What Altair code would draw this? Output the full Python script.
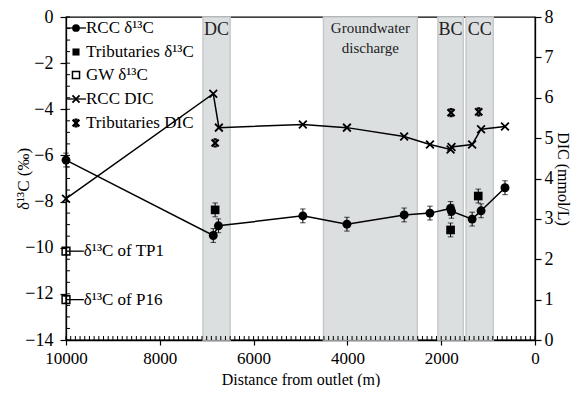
import altair as alt
import pandas as pd

FONT = "Liberation Serif, Times New Roman, serif"

# ---- data ----
rcc_d13c_x = [10000, 6860, 6750, 4950, 4010, 2790, 2240, 1800, 1780, 1340, 1150, 640]
rcc_d13c_y = [-6.2, -9.47, -9.05, -8.62, -8.98, -8.58, -8.5, -8.3, -8.42, -8.76, -8.4, -7.4]
rcc_d13c_err = [0.3] * 12

trib_d13c_x = [6820, 1800, 1210]
trib_d13c_y = [-8.36, -9.23, -7.76]
trib_d13c_err = [0.3, 0.3, 0.3]

gw_x = [10000, 10000]
gw_y = [-10.15, -12.25]
gw_err = [0.15, 0.15]
gw_labels = ["\u03b4\u00b9\u00b3C of  TP1", "\u03b4\u00b9\u00b3C of  P16"]
gw_label_end = [9620, 9620]

rcc_dic_x = [10000, 6860, 6740, 4950, 4010, 2790, 2240, 1800, 1780, 1340, 1150, 640]
rcc_dic_y = [3.5, 6.10, 5.26, 5.34, 5.26, 5.04, 4.84, 4.72, 4.78, 4.84, 5.22, 5.29]

trib_dic_x = [6820, 1790, 1200]
trib_dic_y = [4.88, 5.63, 5.65]

band_names = ["DC", "Groundwater\ndischarge", "BC", "CC"]
band_start = [7080, 4510, 2070, 1470]
band_end = [6500, 2510, 1530, 890]

legend_labels = ["RCC \u03b4\u00b9\u00b3C", "Tributaries \u03b4\u00b9\u00b3C", "GW \u03b4\u00b9\u00b3C",
                 "RCC DIC", "Tributaries DIC"]

x_major = [10000, 8000, 6000, 4000, 2000, 0]
x_minor = list(range(0, 10001, 100))
yl_major = [-14, -12, -10, -8, -6, -4, -2, 0]
yl_minor = [v / 2 for v in range(-28, 1)]
yr_major = [0, 1, 2, 3, 4, 5, 6, 7, 8]

W, H = 469, 323

# ---- frames ----
rcc = pd.DataFrame({"x": rcc_d13c_x, "y": rcc_d13c_y,
                    "lo": [a - b for a, b in zip(rcc_d13c_y, rcc_d13c_err)],
                    "hi": [a + b for a, b in zip(rcc_d13c_y, rcc_d13c_err)]})
trib = pd.DataFrame({"x": trib_d13c_x, "y": trib_d13c_y,
                     "lo": [a - b for a, b in zip(trib_d13c_y, trib_d13c_err)],
                     "hi": [a + b for a, b in zip(trib_d13c_y, trib_d13c_err)]})
gw = pd.DataFrame({"x": gw_x, "y": gw_y, "x2": gw_label_end, "label": gw_labels,
                   "lo": [a - b for a, b in zip(gw_y, gw_err)],
                   "hi": [a + b for a, b in zip(gw_y, gw_err)]})
rdic = pd.DataFrame({"x": rcc_dic_x, "y": rcc_dic_y})
tdic = pd.DataFrame({"x": trib_dic_x, "y": trib_dic_y})
bands = pd.DataFrame({"name": band_names, "s": band_start, "e": band_end,
                      "c": [(a + b) / 2 for a, b in zip(band_start, band_end)]})
xminor = pd.DataFrame({"x": x_minor})
yminor = pd.DataFrame({"y": yl_minor})

common = dict(grid=False, labelFont=FONT, titleFont=FONT, labelFontSize=18, titleFontSize=17,
              titleFontWeight="normal", labelColor="black", titleColor="black",
              domainColor="black", tickColor="black", domainWidth=1.3, tickWidth=1.2,
              labelFlush=False, labelOverlap=False)

# ---- scales / axes ----
xscale = alt.Scale(domain=[10000, 0], nice=False)
xcommon = dict(common, labelFontSize=17, titleFontSize=16)
xaxis = alt.Axis(values=x_major, format="d", title="Distance from outlet (m)",
                 tickSize=5, labelPadding=5, titleY=31, titleBaseline="top", **xcommon)
ylscale = alt.Scale(domain=[-14, 0], nice=False, zero=False)
ylaxis = alt.Axis(values=yl_major, title="\u03b4\u00b9\u00b3C (\u2030)", orient="left",
                  tickSize=6, labelPadding=7, titleX=-34, titleY=H / 2, titleAngle=270,
                  titleBaseline="bottom", titleAlign="center", **common)
yrscale = alt.Scale(domain=[0, 8], nice=False)
rcommon = dict(common, titleFontSize=16)
yraxis = alt.Axis(values=yr_major, title="DIC (mmol/L)", orient="right",
                  tickSize=6, labelPadding=3, titleX=19, titleY=H / 2, titleAngle=90,
                  titleBaseline="bottom", titleAlign="center", **rcommon)


def X(f="x"):
    return alt.X(f + ":Q", scale=xscale, axis=xaxis)


def YL(f="y"):
    return alt.Y(f + ":Q", scale=ylscale, axis=ylaxis)


def YR(f="y"):
    return alt.Y(f + ":Q", scale=yrscale, axis=yraxis)


X_PATH = "M-1,-1L1,1M-1,1L1,-1"
AST_PATH = "M-1,-1L1,1M-1,1L1,-1M-0.45,-1L0.45,-1M-0.45,1L0.45,1"
CAP_PATH = "M-1,0L1,0"

# ---- left layer ----
band_rect = alt.Chart(bands).mark_rect(fill="#dcdfe0", stroke="#c6cacc", strokeWidth=1.5).encode(
    x=X("s"), x2="e:Q")
band_txt_small = alt.Chart(bands[bands["name"] != band_names[1]]).mark_text(
    font=FONT, fontSize=18, baseline="top", color="#222").encode(
    x=X("c"), y=alt.value(4), text="name:N")
band_txt_gw = alt.Chart(bands[bands["name"] == band_names[1]]).mark_text(
    font=FONT, fontSize=15, baseline="top", lineBreak="\n", lineHeight=20, color="#222").encode(
    x=X("c"), y=alt.value(4), text="name:N")

minor_x = alt.Chart(xminor).mark_rule(color="black", strokeWidth=1).encode(
    x=X("x"), y=alt.value(H), y2=alt.value(H - 4))
minor_y = alt.Chart(yminor).mark_rule(color="black", strokeWidth=1).encode(
    y=YL("y"), x=alt.value(0), x2=alt.value(4))

rcc_line = alt.Chart(rcc).mark_line(color="black", strokeWidth=1.5).encode(x=X(), y=YL())
rcc_err = alt.Chart(rcc).mark_rule(color="black", strokeWidth=1).encode(x=X(), y=YL("lo"), y2="hi:Q")
rcc_cap_lo = alt.Chart(rcc).mark_point(shape=CAP_PATH, size=30, color="black", strokeWidth=1).encode(x=X(), y=YL("lo"))
rcc_cap_hi = alt.Chart(rcc).mark_point(shape=CAP_PATH, size=30, color="black", strokeWidth=1).encode(x=X(), y=YL("hi"))
rcc_pts = alt.Chart(rcc).mark_point(shape="circle", size=80, filled=True, color="black", opacity=1).encode(x=X(), y=YL())

trib_err = alt.Chart(trib).mark_rule(color="black", strokeWidth=1).encode(x=X(), y=YL("lo"), y2="hi:Q")
trib_cap_lo = alt.Chart(trib).mark_point(shape=CAP_PATH, size=30, color="black", strokeWidth=1).encode(x=X(), y=YL("lo"))
trib_cap_hi = alt.Chart(trib).mark_point(shape=CAP_PATH, size=30, color="black", strokeWidth=1).encode(x=X(), y=YL("hi"))
trib_pts = alt.Chart(trib).mark_point(shape="square", size=75, filled=True, color="black", opacity=1).encode(x=X(), y=YL())

gw_rule = alt.Chart(gw).mark_rule(color="black", strokeWidth=1.3).encode(x=X(), x2="x2:Q", y=YL())
gw_err_r = alt.Chart(gw).mark_rule(color="black", strokeWidth=1).encode(x=X(), y=YL("lo"), y2="hi:Q")
gw_cap_lo = alt.Chart(gw).mark_point(shape=CAP_PATH, size=20, color="black", strokeWidth=1).encode(x=X(), y=YL("lo"))
gw_cap_hi = alt.Chart(gw).mark_point(shape=CAP_PATH, size=20, color="black", strokeWidth=1).encode(x=X(), y=YL("hi"))
gw_pts = alt.Chart(gw).mark_point(shape="square", size=60, filled=False, color="black", strokeWidth=1.5, opacity=1).encode(x=X(), y=YL())
gw_txt = alt.Chart(gw).mark_text(font=FONT, fontSize=17, align="left", dx=0, color="black").encode(
    x=X("x2"), y=YL(), text="label:N")

# legend (manual)
leg_layers = []
one = alt.Data(values=[{}])
leg_y = [11, 35, 58, 82, 106]
leg_marks = [
    dict(shape="circle", filled=True, size=60),
    dict(shape="square", filled=True, size=50),
    dict(shape="square", filled=False, size=50, strokeWidth=1.5),
    dict(shape=X_PATH, filled=False, size=50, strokeWidth=1.8),
    dict(shape=AST_PATH, filled=False, size=45, strokeWidth=2.2),
]
for i, lab in enumerate(legend_labels):
    yv = leg_y[i]
    if i in (0, 3):
        leg_layers.append(alt.Chart(one).mark_rule(color="black", strokeWidth=1.3).encode(
            x=alt.value(0), x2=alt.value(20), y=alt.value(yv)))
    leg_layers.append(alt.Chart(one).mark_point(color="black", opacity=1, **leg_marks[i]).encode(
        x=alt.value(10), y=alt.value(yv)))
    leg_layers.append(alt.Chart(one).mark_text(font=FONT, fontSize=17, align="left", baseline="middle",
                                                color="black", text=lab).encode(
        x=alt.value(20), y=alt.value(yv)))

left = alt.layer(band_rect, band_txt_small, band_txt_gw, minor_x, minor_y,
                 rcc_line, rcc_err, rcc_cap_lo, rcc_cap_hi, rcc_pts,
                 trib_err, trib_cap_lo, trib_cap_hi, trib_pts,
                 gw_rule, gw_err_r, gw_cap_lo, gw_cap_hi, gw_pts, gw_txt,
                 *leg_layers)

# ---- right layer ----
rdic_line = alt.Chart(rdic).mark_line(color="black", strokeWidth=1.5).encode(x=X(), y=YR())
rdic_pts = alt.Chart(rdic).mark_point(shape=X_PATH, size=60, color="black", strokeWidth=1.8, opacity=1).encode(x=X(), y=YR())
tdic_pts = alt.Chart(tdic).mark_point(shape=AST_PATH, size=50, color="black", strokeWidth=2.2, opacity=1).encode(x=X(), y=YR())
right = alt.layer(rdic_line, rdic_pts, tdic_pts)

chart = alt.layer(left, right).resolve_scale(y="independent").properties(
    width=W, height=H,
    autosize=alt.AutoSizeParams(type="none"),
    padding={"left": 58, "top": 9, "right": 36, "bottom": 47},
    background="white",
).configure_view(stroke="black", strokeWidth=1.3)

chart.save("out.html", embed_options={"renderer": "svg", "actions": False})
